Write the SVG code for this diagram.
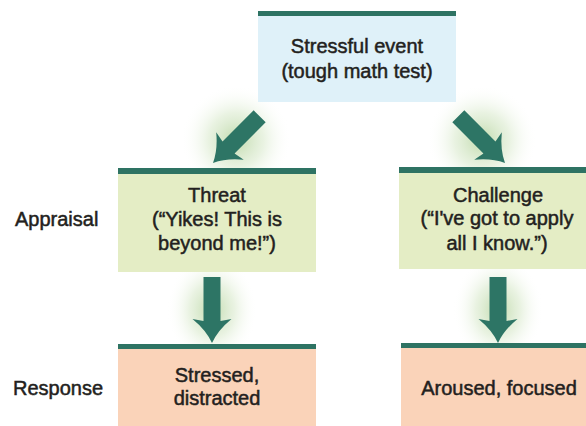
<svg xmlns="http://www.w3.org/2000/svg" width="586" height="426" viewBox="0 0 586 426">
<defs>
<radialGradient id="glow">
<stop offset="0" stop-color="#b9d6a3" stop-opacity="0.9"/>
<stop offset="0.5" stop-color="#d3e6c4" stop-opacity="0.5"/>
<stop offset="1" stop-color="#ffffff" stop-opacity="0"/>
</radialGradient>
<path id="arrow" d="M0,0 Q-6,-13 -19.5,-24 L-8.5,-22 L-8.5,-66 L8.5,-66 L8.5,-22 L19.5,-24 Q6,-13 0,0 Z"/>
</defs>
<style>
.t{font-family:"Liberation Sans",Arial,sans-serif;font-size:20px;fill:#231f20;stroke:#231f20;stroke-width:0.5;text-anchor:middle}
.l{text-anchor:start}
.bar{fill:#2e7363}
.arr{fill:#2d7565}
.blue{fill:#dff1f9}
.green{fill:#e4edc5}
.peach{fill:#fad3b9}
</style>
<rect width="586" height="426" fill="#ffffff"/>
<g id="glows">
<ellipse cx="236" cy="140" rx="55" ry="55" fill="url(#glow)"/>
<ellipse cx="482" cy="140" rx="55" ry="55" fill="url(#glow)"/>
<ellipse cx="212" cy="310" rx="45" ry="55" fill="url(#glow)"/>
<ellipse cx="498" cy="310" rx="45" ry="55" fill="url(#glow)"/>
</g>
<g id="node-event">
<rect class="blue" x="258" y="11" width="198" height="91"/>
<rect class="bar" x="258" y="11" width="198" height="5"/>
<text class="t" x="357" y="53">Stressful event</text>
<text class="t" x="357" y="78">(tough math test)</text>
</g>
<g id="node-threat">
<rect class="green" x="118" y="168" width="198" height="104"/>
<rect class="bar" x="118" y="168" width="198" height="6"/>
<text class="t" x="217" y="202">Threat</text>
<text class="t" x="217" y="226">(“Yikes! This is</text>
<text class="t" x="217" y="250">beyond me!”)</text>
</g>
<g id="node-challenge">
<rect class="green" x="399" y="167" width="187" height="102"/>
<rect class="bar" x="399" y="167" width="187" height="6"/>
<text class="t" x="498" y="202">Challenge</text>
<text class="t" x="497" y="225">(“I've got to apply</text>
<text class="t" x="497" y="250">all I know.”)</text>
</g>
<g id="node-stressed">
<rect class="peach" x="118" y="344" width="198" height="82"/>
<rect class="bar" x="118" y="344" width="198" height="5"/>
<text class="t" x="217" y="382">Stressed,</text>
<text class="t" x="217" y="405">distracted</text>
</g>
<g id="node-aroused">
<rect class="peach" x="401" y="343" width="185" height="83"/>
<rect class="bar" x="401" y="343" width="185" height="5"/>
<text class="t" x="499" y="395">Aroused, focused</text>
</g>
<g id="labels">
<text class="t l" x="15" y="226">Appraisal</text>
<text class="t l" x="13" y="395">Response</text>
</g>
<g id="connectors">
<use href="#arrow" class="arr" transform="translate(213,163) rotate(45)"/>
<use href="#arrow" class="arr" transform="translate(505,163) rotate(-45)"/>
<use href="#arrow" class="arr" transform="translate(212,343)"/>
<use href="#arrow" class="arr" transform="translate(498,343)"/>
</g>
</svg>
